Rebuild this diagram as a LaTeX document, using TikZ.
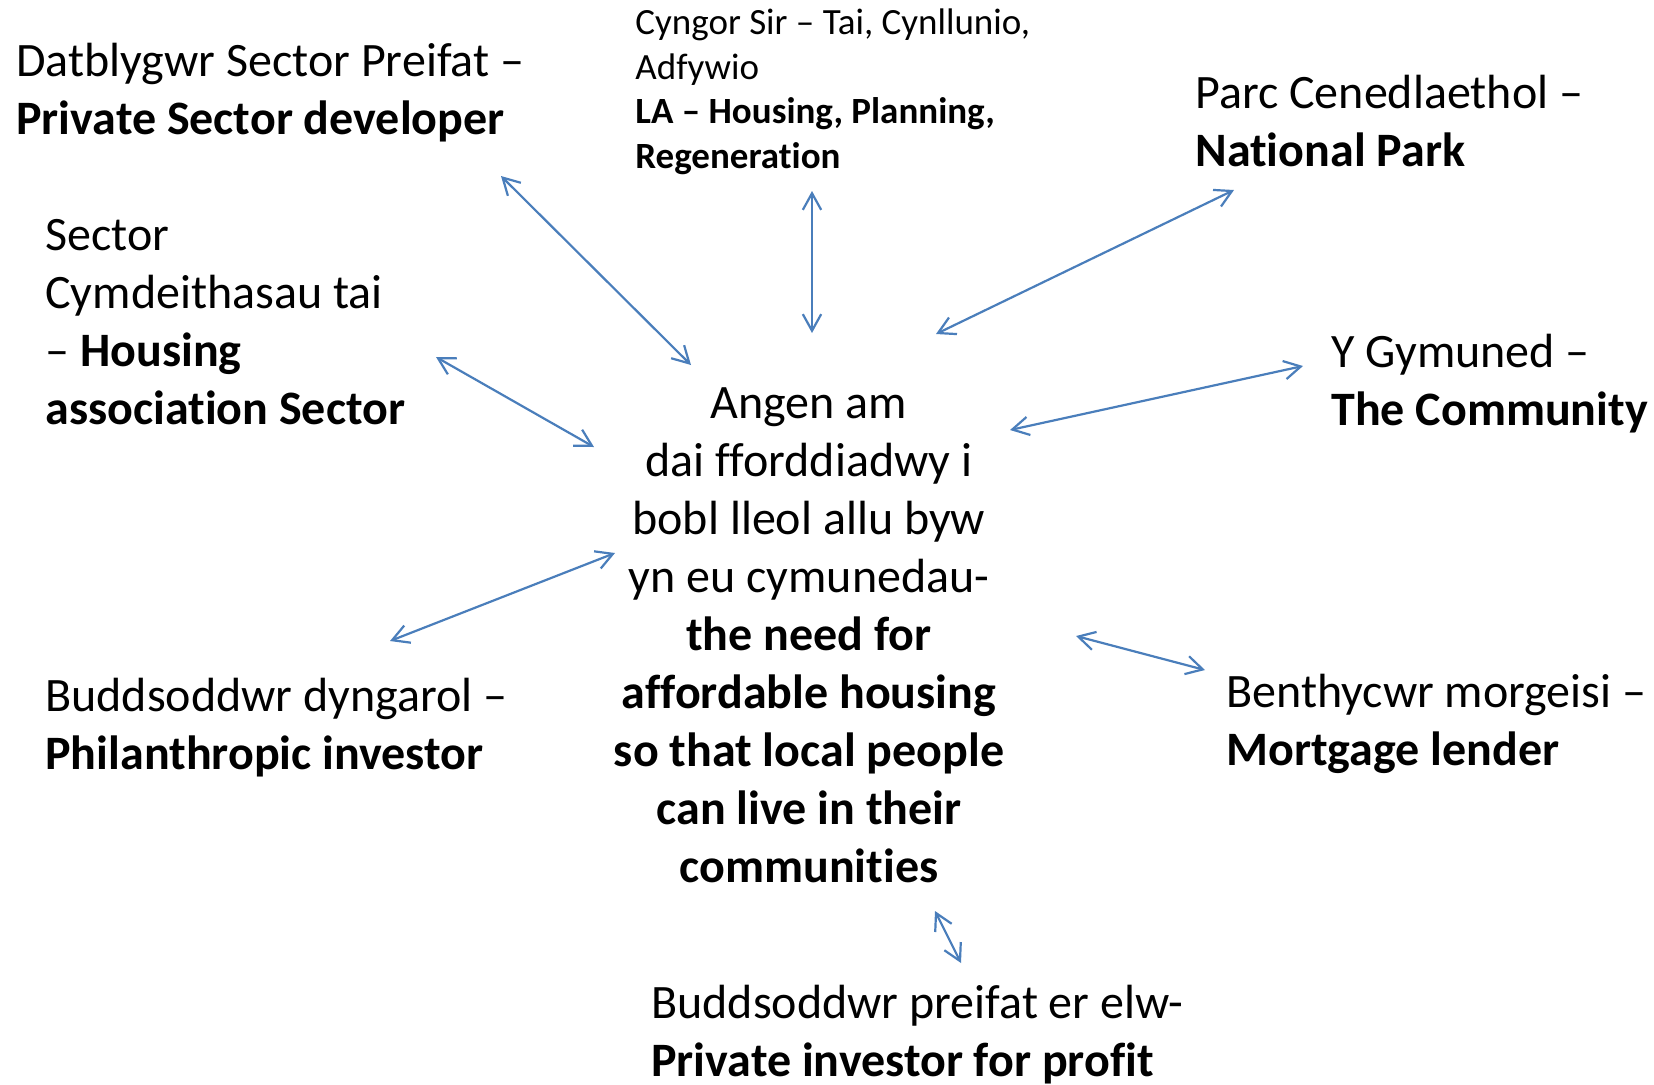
\documentclass[tikz,border=0pt]{standalone}
\usepackage{fontspec}
\setmainfont{Carlito}[Ligatures={NoCommon}]
\usetikzlibrary{arrows.meta}
\definecolor{arrowblue}{RGB}{74,126,187}
\begin{document}
\begin{tikzpicture}[x=0.5pt,y=-0.5pt,
  big/.style={font=\fontsize{24}{29}\selectfont, inner sep=0pt, align=left, anchor=base west},
  small/.style={font=\fontsize{18.5}{22.2}\selectfont, inner sep=0pt, align=left, anchor=base west},
  link/.style={draw=arrowblue, line width=1.1pt, line cap=round,
    {Straight Barb[length=8.3pt,width=9.2pt]}-{Straight Barb[length=8.3pt,width=9.2pt]}}]
\useasboundingbox (0,0) rectangle (1654,1084);

% anchors are at the baseline of the last line
\node[big] (dev) at (16,134) {Datblygwr Sector Preifat –\\\textbf{Private Sector developer}};
\node[small] (la) at (635,168) {Cyngor Sir – Tai, Cynllunio,\\Adfywio\\\textbf{LA – Housing, Planning,}\\\textbf{Regeneration}};
\node[big] (park) at (1195,166) {Parc Cenedlaethol –\\\textbf{National Park}};
\node[big] (ha) at (45,424) {Sector\\Cymdeithasau tai\\– \textbf{Housing}\\\textbf{association Sector}};
\node[big] (comm) at (1331,425) {Y Gymuned –\\\textbf{The Community}};
\node[big, align=center, anchor=base] (need) at (809,882) {Angen am\\dai fforddiadwy i\\bobl lleol allu byw\\yn eu cymunedau-\\\textbf{the need for}\\\textbf{affordable housing}\\\textbf{so that local people}\\\textbf{can live in their}\\\textbf{communities}};
\node[big] (phil) at (45,769) {Buddsoddwr dyngarol –\\\textbf{Philanthropic investor}};
\node[big] (mort) at (1226,765) {Benthycwr morgeisi –\\\textbf{Mortgage lender}};
\node[big] (priv) at (651,1076) {Buddsoddwr preifat er elw-\\\textbf{Private investor for profit}};

\coordinate (a1) at (501,176); \coordinate (a2) at (691,365);
\coordinate (b1) at (812,191); \coordinate (b2) at (812,333);
\coordinate (c1) at (1234,190); \coordinate (c2) at (936,334);
\coordinate (d1) at (436,357); \coordinate (d2) at (594,447);
\coordinate (e1) at (1303,366); \coordinate (e2) at (1010,430);
\coordinate (f1) at (615,553); \coordinate (f2) at (390,641);
\coordinate (g1) at (1076,636); \coordinate (g2) at (1205,670);
\coordinate (h1) at (935,911); \coordinate (h2) at (961,963);

\draw[link] (a1) -- (a2);
\draw[link] (b1) -- (b2);
\draw[link] (c1) -- (c2);
\draw[link] (d1) -- (d2);
\draw[link] (e1) -- (e2);
\draw[link] (f1) -- (f2);
\draw[link] (g1) -- (g2);
\draw[link] (h1) -- (h2);
\end{tikzpicture}
\end{document}
